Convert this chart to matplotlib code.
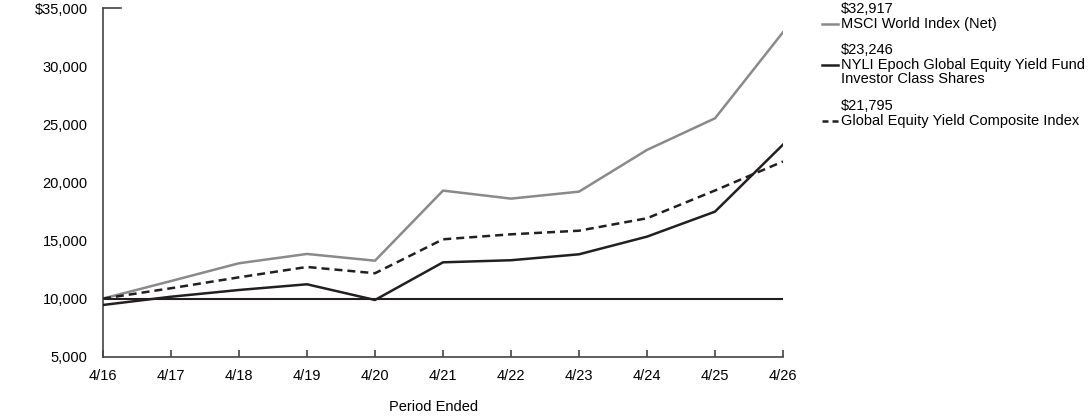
import matplotlib
matplotlib.use("Agg")
import matplotlib.pyplot as plt
from matplotlib.lines import Line2D
from matplotlib.ticker import FuncFormatter

plt.rcParams['font.family'] = ['Liberation Sans', 'DejaVu Sans']

periods = ["4/16", "4/17", "4/18", "4/19", "4/20", "4/21", "4/22", "4/23", "4/24", "4/25", "4/26"]
msci = [10000, 11510, 13040, 13840, 13260, 19290, 18600, 19200, 22790, 25510, 32917]
fund = [9450, 10160, 10740, 11230, 9880, 13120, 13300, 13810, 15330, 17480, 23246]
composite = [10000, 10890, 11830, 12720, 12180, 15100, 15530, 15840, 16910, 19300, 21795]

series_names = ["MSCI World Index (Net)",
                "NYLI Epoch Global Equity Yield Fund\nInvestor Class Shares",
                "Global Equity Yield Composite Index"]
end_labels = ["$32,917", "$23,246", "$21,795"]
yticks = [5000, 10000, 15000, 20000, 25000, 30000, 35000]

GRAY = "#8a8a8a"
BLACK = "#231f20"
FS = 10.5

W, H = 1092, 417
fig = plt.figure(figsize=(W / 100, H / 100), dpi=100)
ax = fig.add_axes([103 / W, 1 - 356.7 / H, (783 - 103) / W, (356.7 - 8) / H])

x = list(range(len(periods)))
ax.axhline(10000, color=BLACK, lw=1.5, zorder=1)
ax.plot(x, msci, color=GRAY, lw=1.8, zorder=3)
ax.plot(x, composite, color=BLACK, lw=1.8, ls=(0, (3.2, 2.0)), zorder=3)
ax.plot(x, fund, color=BLACK, lw=1.8, zorder=4)

ax.set_xlim(0, len(periods) - 1)
ax.set_ylim(5000, 35000)
ax.set_xticks(x)
ax.set_xticklabels(periods)
ax.set_yticks(yticks)
ax.yaxis.set_major_formatter(FuncFormatter(lambda v, p: f"${v:,.0f}" if v == 35000 else f"{v:,.0f}"))
ax.tick_params(axis='x', direction='in', length=5, width=1.2, color='#444444', labelsize=FS, pad=9)
ax.tick_params(axis='y', length=0, labelsize=FS, pad=11)

for s in ['top', 'right']:
    ax.spines[s].set_visible(False)
for s in ['left', 'bottom']:
    ax.spines[s].set_color('#444444')
    ax.spines[s].set_linewidth(1.2)

# short top tick
ax.plot([0, 18 / 680 * 10], [35000, 35000], color='#444444', lw=1.2, clip_on=False)

fig.text(434 / W, 1 - 407 / H, "Period Ended", ha='center', va='center', fontsize=FS)

# legend
handle_x0, handle_x1, text_x = 822, 838, 841
entries = [
    (GRAY, '-', 9, 24, end_labels[0], series_names[0]),
    (BLACK, '-', 50, 65, end_labels[1], series_names[1]),
    (BLACK, (0, (2.4, 1.6)), 106, 121, end_labels[2], series_names[2]),
]
for color, ls, yv, yn, val, name in entries:
    fig.add_artist(Line2D([handle_x0 / W, handle_x1 / W], [1 - yn / H, 1 - yn / H],
                          color=color, lw=1.8, ls=ls, transform=fig.transFigure))
    fig.text(text_x / W, 1 - yv / H, val, ha='left', va='center', fontsize=FS)
    fig.text(text_x / W, 1 - (yn - 7) / H, name, ha='left', va='top', fontsize=FS, linespacing=1.0)

fig.savefig("out.png", dpi=100)
